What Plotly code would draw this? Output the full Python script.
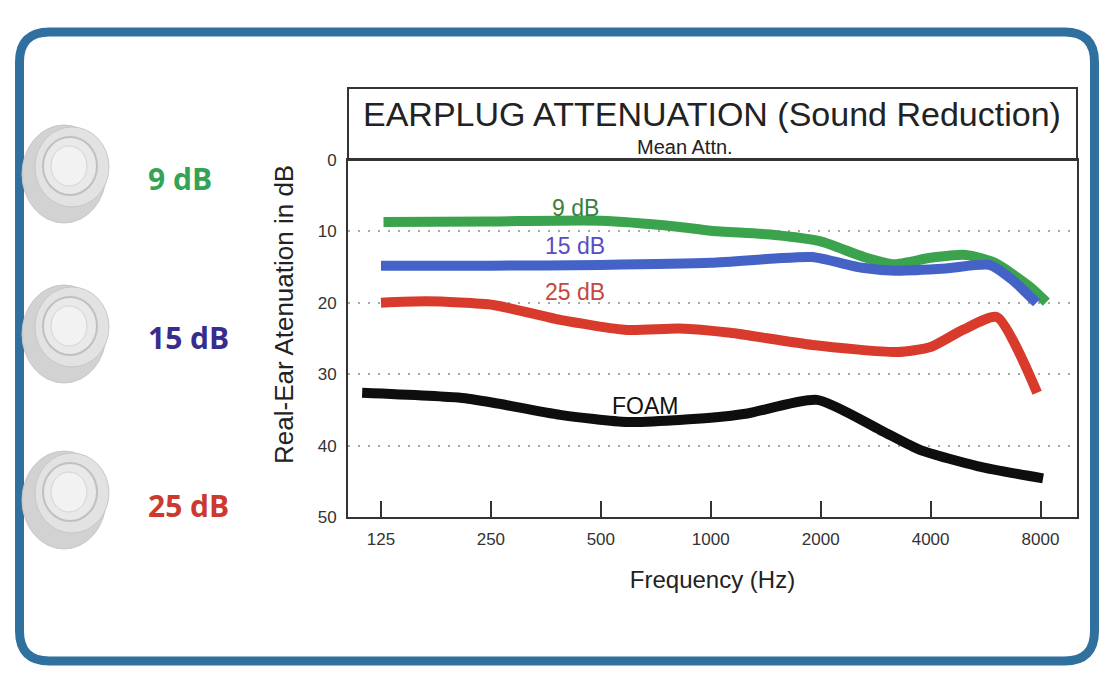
import plotly.graph_objects as go

W, H = 1114, 690

# ---------------- data ----------------
freq_ticks = [125, 250, 500, 1000, 2000, 4000, 8000]
freq_tick_labels = ["125", "250", "500", "1000", "2000", "4000", "8000"]
att_ticks = [0, 10, 20, 30, 40, 50]

freq_9 = [127, 250, 500, 800, 1000, 1500, 2000, 2600, 3150, 4000, 5000, 6000, 7500, 8300]
att_9 = [8.7, 8.6, 8.5, 9.3, 9.9, 10.5, 11.4, 13.5, 14.6, 13.7, 13.3, 14.4, 17.8, 19.9]

freq_15 = [125, 250, 500, 1000, 1500, 1900, 2600, 3200, 4400, 5800, 6700, 7800]
att_15 = [14.8, 14.8, 14.7, 14.4, 13.8, 13.6, 15.1, 15.5, 15.2, 14.7, 16.8, 20.0]

freq_25 = [125, 167, 254, 387, 590, 820, 1130, 1900, 3240, 4000, 4900, 6080, 7830]
att_25 = [20.0, 19.8, 20.3, 22.4, 23.8, 23.6, 24.2, 25.9, 26.9, 26.2, 23.8, 22.0, 32.6]

freq_foam = [111, 206, 254, 387, 590, 820, 1000, 1260, 1955, 2910, 3740, 5400, 8130]
att_foam = [32.6, 33.3, 34.0, 35.7, 36.7, 36.4, 36.1, 35.5, 33.6, 37.8, 40.6, 42.9, 44.6]

plug_labels = ["9 dB", "15 dB", "25 dB"]
plug_colors = ["#35a356", "#372d8e", "#cb3a2f"]

series = [
    ("9 dB", freq_9, att_9, "#3ba34e"),
    ("15 dB", freq_15, att_15, "#4563c6"),
    ("25 dB", freq_25, att_25, "#d83b2c"),
    ("FOAM", freq_foam, att_foam, "#0e0e0e"),
]


def px(x):
    return x / W


def py(y):
    return 1 - y / H


fig = go.Figure()
for name, fx, fy, col in series:
    fig.add_trace(go.Scatter(
        x=fx, y=fy, name=name, mode="lines",
        line=dict(color=col, width=10, shape="spline", smoothing=0.6),
        showlegend=False,
    ))

shapes = []
# outer rounded frame
x0, x1, y0, y1, r = px(19.5), px(1094.5), py(32), py(661), 30
rx, ry = r / W, r / H
path = (f"M {x0+rx},{y0} L {x1-rx},{y0} Q {x1},{y0} {x1},{y0-ry} "
        f"L {x1},{y1+ry} Q {x1},{y1} {x1-rx},{y1} L {x0+rx},{y1} "
        f"Q {x0},{y1} {x0},{y1+ry} L {x0},{y0-ry} Q {x0},{y0} {x0+rx},{y0} Z")
shapes.append(dict(type="path", xref="paper", yref="paper", path=path,
                   line=dict(color="#30709f", width=9), layer="below"))

# title box
shapes.append(dict(type="rect", xref="paper", yref="paper",
                   x0=px(348), x1=px(1077), y0=py(160), y1=py(88),
                   line=dict(color="#333333", width=2)))


def ell(cx, cy, rxp, ryp, fill, lc, lw):
    return dict(type="circle", xref="paper", yref="paper",
                x0=px(cx - rxp), x1=px(cx + rxp), y0=py(cy + ryp), y1=py(cy - ryp),
                fillcolor=fill, line=dict(color=lc, width=lw), layer="below")


plug_centers = [172, 332, 498]
for c in plug_centers:
    shapes.append(ell(64, c + 2, 42, 49, "#d2d2d2", "#c8c8c8", 1))
    shapes.append(ell(72, c - 5, 37, 40, "#e2e2e2", "#c8c8c8", 1))
    shapes.append(ell(70, c - 6, 27, 29, "#e9e9e9", "#c0c0c0", 2))
    shapes.append(ell(69, c - 6, 18, 20, "#f2f2f2", "#d4d4d4", 1))

annotations = [
    dict(text="EARPLUG ATTENUATION (Sound Reduction)", x=px(712), y=py(114),
         font=dict(size=34, color="#222222")),
    dict(text="Mean Attn.", x=px(685), y=py(147), font=dict(size=20, color="#222222")),
    dict(text="9 dB", x=px(575), y=py(208), font=dict(size=23, color="#3b7f3e")),
    dict(text="15 dB", x=px(575), y=py(246), font=dict(size=23, color="#5a4cc2")),
    dict(text="25 dB", x=px(575), y=py(292), font=dict(size=23, color="#c4483e")),
    dict(text="FOAM", x=px(645), y=py(406), font=dict(size=23, color="#111111")),
    dict(text="Real-Ear Atenuation in dB", x=px(284), y=py(315), textangle=-90,
         font=dict(size=26, color="#222222")),
]
label_pos = [(180, 178), (188, 337), (188, 505)]
for t, c, (lx, ly) in zip(plug_labels, plug_colors, label_pos):
    annotations.append(dict(text=f"<b>{t}</b>", x=px(lx), y=py(ly),
                            font=dict(size=30, color=c, family="Open Sans")))
for a in annotations:
    a.update(xref="paper", yref="paper", showarrow=False, xanchor="center", yanchor="middle")

fig.update_layout(
    width=W, height=H,
    margin=dict(l=0, r=0, t=0, b=0, pad=0, autoexpand=False),
    paper_bgcolor="white", plot_bgcolor="white",
    font=dict(family="Liberation Sans, Arial, sans-serif", color="#333333"),
    shapes=shapes, annotations=annotations,
    xaxis=dict(
        type="log", domain=[px(348), px(1077)], range=[2.0066, 4.003],
        tickvals=freq_ticks, ticktext=freq_tick_labels, automargin=False,
        ticks="inside", ticklen=16, tickwidth=2, tickcolor="#333333",
        tickfont=dict(size=17, color="#333333"), ticklabelstandoff=6,
        showline=True, linecolor="#333333", linewidth=2, mirror=True,
        showgrid=False, zeroline=False,
        title=dict(text="Frequency (Hz)", font=dict(size=24, color="#222222"), standoff=23),
    ),
    yaxis=dict(
        domain=[py(517), py(160)], range=[50, 0], automargin=False,
        tickvals=att_ticks, ticks="outside", ticklen=6, tickcolor="rgba(0,0,0,0)",
        tickfont=dict(size=17, color="#333333"),
        showline=True, linecolor="#333333", linewidth=2, mirror=True,
        showgrid=True, gridcolor="#a8a8a8", griddash="2px,8px", gridwidth=2,
        zeroline=False,
    ),
)

fig.write_html("out.html", config={"displayModeBar": False},
               post_script="document.body.style.margin='0';document.body.style.overflow='hidden';")
